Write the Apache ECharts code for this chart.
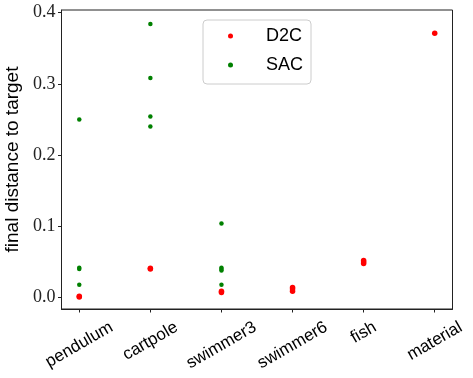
<!DOCTYPE html>
<html>
<head>
<meta charset="utf-8">
<script src="https://cdn.jsdelivr.net/npm/echarts@6/dist/echarts.min.js"></script>
<style>
  html, body { margin: 0; padding: 0; background: #fff; }
  #chart { width: 473px; height: 378px; }
</style>
</head>
<body>
<div id="chart"></div>
<script>
// environments on the x axis
var categories = ['pendulum', 'cartpole', 'swimmer3', 'swimmer6', 'fish', 'material'];
// final distance per run, one list per environment
var d2cValues = [
    [0.001, 0.002],
    [0.040, 0.041],
    [0.007, 0.009],
    [0.009, 0.012, 0.014],
    [0.048, 0.050, 0.052],
    [0.371]
];
var sacValues = [
    [0.250, 0.042, 0.040, 0.018],
    [0.384, 0.308, 0.254, 0.240],
    [0.104, 0.042, 0.040, 0.038, 0.018],
    [],
    [],
    []
];
var yTicks = [0, 0.1, 0.2, 0.3, 0.4];
var xTicks = [0, 1, 2, 3, 4, 5];

function toPoints(lists) {
    var pts = [];
    lists.forEach(function (vals, i) {
        vals.forEach(function (v) { pts.push([i, v]); });
    });
    return pts;
}

// matplotlib centres the rotated label box under the tick, echarts rotates
// round the anchor, so push each label down by a quarter of its length
var ctx = document.createElement('canvas').getContext('2d');
ctx.font = '17px "Liberation Sans"';
var rich = {};
categories.forEach(function (c, i) {
    var d = ctx.measureText(c).width / 4;
    rich['c' + i] = {
        fontFamily: 'Liberation Sans',
        fontSize: 17,
        color: '#000',
        padding: [1.732 * d, d, 0, 0]
    };
});

var chart = echarts.init(document.getElementById('chart'));

chart.setOption({
    animation: false,
    grid: {
        left: 61.5,
        right: 20.5,
        top: 10,
        bottom: 69,
        containLabel: false,
        outerBoundsMode: 'none',
        show: true,
        borderColor: '#222',
        borderWidth: 1
    },
    legend: {
        left: 203,
        top: 20,
        orient: 'vertical',
        padding: [6, 8, 9, 25],
        itemGap: 9,
        itemWidth: 5,
        itemHeight: 5,
        icon: 'circle',
        borderColor: '#ccc',
        borderWidth: 1,
        borderRadius: 4,
        backgroundColor: 'rgba(255,255,255,0.8)',
        textStyle: {
            fontFamily: 'Liberation Sans',
            fontSize: 18,
            color: '#000',
            lineHeight: 20,
            padding: [0, 0, 0, 28]
        },
        data: ['D2C', 'SAC']
    },
    xAxis: {
        type: 'value',
        min: -0.25,
        max: 5.25,
        splitLine: { show: false },
        axisLine: { show: true, onZero: false, lineStyle: { color: '#222' } },
        axisTick: {
            show: true,
            inside: false,
            length: 3.5,
            customValues: xTicks,
            lineStyle: { color: '#222' }
        },
        axisLabel: {
            customValues: xTicks,
            rotate: 30,
            align: 'center',
            verticalAlign: 'middle',
            margin: 17,
            hideOverlap: false,
            formatter: function (v) {
                var i = Math.round(v);
                return '{c' + i + '|' + categories[i] + '}';
            },
            rich: rich
        }
    },
    yAxis: {
        type: 'value',
        min: -0.016,
        max: 0.4035,
        name: 'final distance to target',
        nameLocation: 'middle',
        nameGap: 36,
        nameTextStyle: {
            fontFamily: 'Liberation Sans',
            fontSize: 19,
            color: '#000'
        },
        splitLine: { show: false },
        axisLine: { show: true, onZero: false, lineStyle: { color: '#222' } },
        axisTick: {
            show: true,
            inside: false,
            length: 3.5,
            customValues: yTicks,
            lineStyle: { color: '#222' }
        },
        axisLabel: {
            customValues: yTicks,
            margin: 6,
            fontFamily: 'Liberation Serif',
            fontSize: 18,
            color: '#222',
            formatter: function (v) { return v.toFixed(1); }
        }
    },
    series: [
        {
            name: 'D2C',
            type: 'scatter',
            symbol: 'circle',
            symbolSize: 5.5,
            itemStyle: { color: '#ff0000', opacity: 1 },
            data: toPoints(d2cValues)
        },
        {
            name: 'SAC',
            type: 'scatter',
            symbol: 'circle',
            symbolSize: 4.5,
            itemStyle: { color: '#008000', opacity: 1 },
            data: toPoints(sacValues)
        }
    ]
});
</script>
</body>
</html>
